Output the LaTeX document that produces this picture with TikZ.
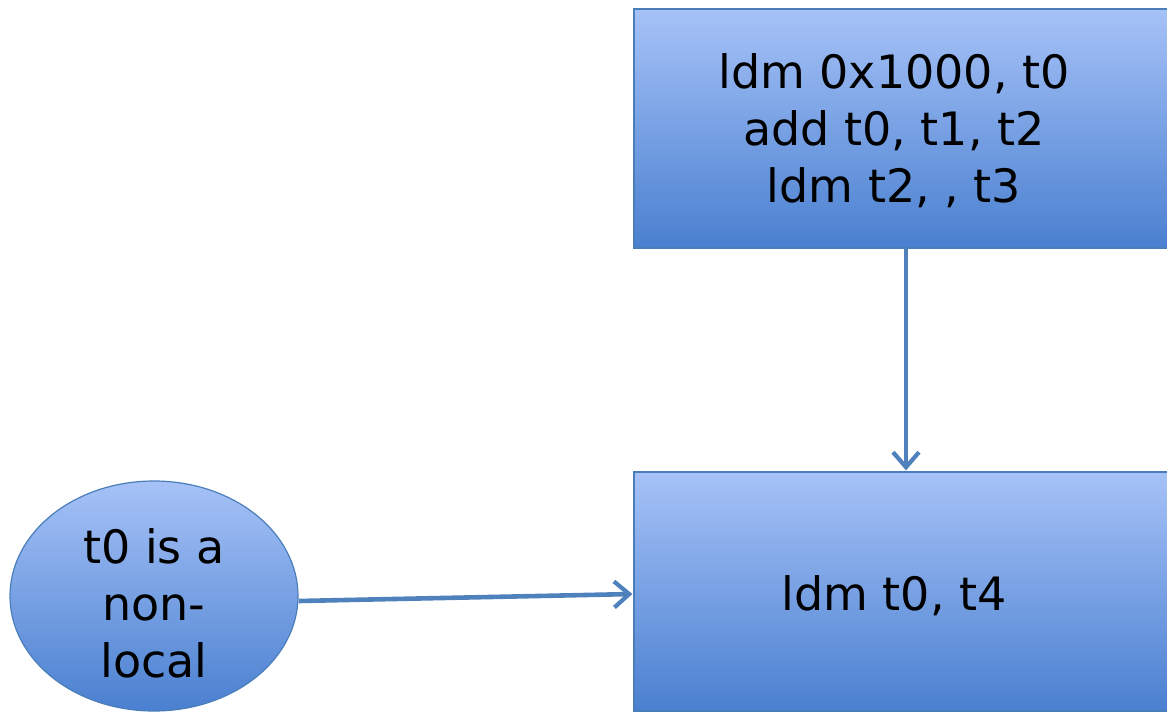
\documentclass[tikz,border=0pt]{standalone}
\usepackage{fontspec}
\setmainfont{DejaVu Sans}
\usetikzlibrary{arrows.meta,shapes.geometric}
\definecolor{edgeblue}{HTML}{4A7EBB}
\definecolor{linkblue}{HTML}{4F81BD}
\definecolor{filltop}{HTML}{A6C2F7}
\definecolor{fillbot}{HTML}{4A80D0}
\tikzset{
  block/.style={draw=edgeblue, line width=1.2pt, top color=filltop, bottom color=fillbot,
    minimum width=544pt, minimum height=239pt, inner sep=0pt},
  note/.style={ellipse, draw=edgeblue, line width=1.2pt, top color=filltop, bottom color=fillbot,
    minimum width=288pt, minimum height=230pt, inner sep=0pt},
  label/.style={font=\fontsize{46}{57}\selectfont, align=center, inner sep=0pt},
  link/.style={draw=linkblue, line width=4.6pt,
    -{Straight Barb[length=15pt,width=26pt,line width=4.2pt]}, shorten >=1pt}
}
\begin{document}
\begin{tikzpicture}[x=1pt,y=-1pt]
  \useasboundingbox (0,0) rectangle (1167,712);
  \clip (0,0) rectangle (1167,712);
  \fill[white] (0,0) rectangle (1167,712);
  % instruction blocks
  \node[block] (top) at (906,128.5) {};
  \node[label] (toptext) at (894,131) {ldm 0x1000, t0\\add t0, t1, t2\\ldm t2, , t3};
  \node[block] (low) at (906,591.5) {};
  \node[label] (lowtext) at (894,596) {ldm t0, t4};
  % annotation
  \node[note] (ell) at (154,596) {};
  \node[label] (elltext) at (154,603) {t0 is a\\non-\\local};
  % connectors
  \draw[link] (top.south) -- (low.north);
  \draw[link] ([yshift=-5pt]ell.east) -- ([yshift=-2.5pt]low.west);
\end{tikzpicture}
\end{document}
